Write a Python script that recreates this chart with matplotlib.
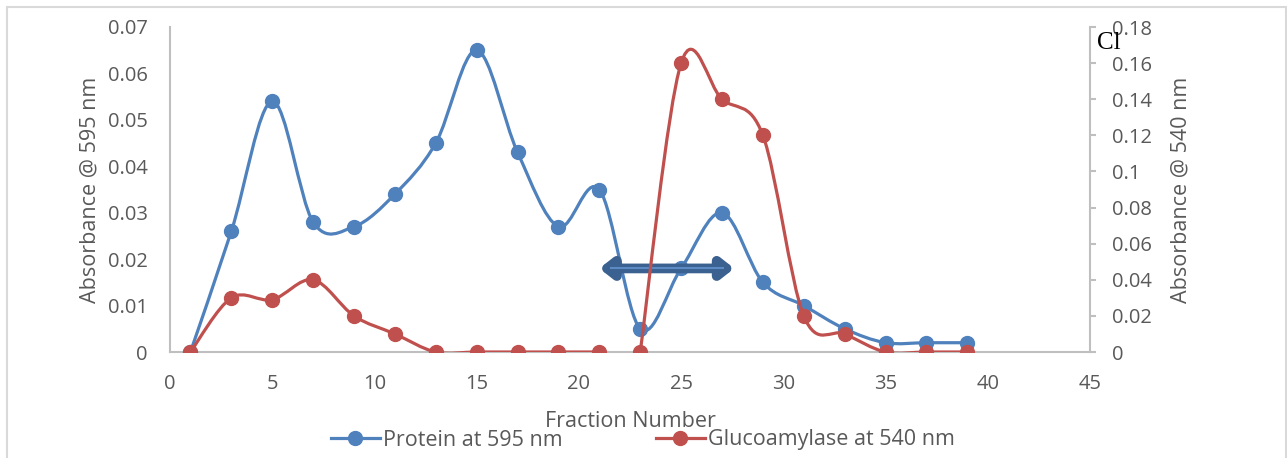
import matplotlib
matplotlib.use("Agg")
import matplotlib.pyplot as plt
from matplotlib.path import Path
from matplotlib.patches import PathPatch, Rectangle
from matplotlib.lines import Line2D

fractions = [1, 3, 5, 7, 9, 11, 13, 15, 17, 19, 21, 23, 25, 27, 29, 31, 33, 35, 37, 39]
protein = [0, 0.026, 0.054, 0.028, 0.027, 0.034, 0.045, 0.065, 0.043, 0.027, 0.035,
           0.005, 0.018, 0.030, 0.015, 0.010, 0.005, 0.002, 0.002, 0.002]
gluco_seg1_x = [1, 3, 5, 7, 9, 11, 13, 15, 17, 19, 21]
gluco_seg1_y = [0, 0.030, 0.029, 0.040, 0.020, 0.010, 0, 0, 0, 0, 0]
gluco_seg2_x = [23, 25, 27, 29, 31, 33, 35, 37, 39]
gluco_seg2_y = [0, 0.16, 0.14, 0.12, 0.02, 0.01, 0, 0, 0]

xticks = [0, 5, 10, 15, 20, 25, 30, 35, 40, 45]
left_ticks = [0, 0.01, 0.02, 0.03, 0.04, 0.05, 0.06, 0.07]
right_ticks = [0, 0.02, 0.04, 0.06, 0.08, 0.1, 0.12, 0.14, 0.16, 0.18]

BLUE = "#4f81bd"
RED = "#c0504d"
GRAY = "#bfbfbf"
TXT = "#595959"
FONT = "Open Sans"
TICK_FS = 14.5
LAB_FS = 15.5


def smooth_path(xs, ys):
    n = len(xs)
    verts = [(xs[0], ys[0])]
    codes = [Path.MOVETO]
    for i in range(n - 1):
        x0, y0 = (xs[i - 1], ys[i - 1]) if i > 0 else (xs[i], ys[i])
        x1, y1 = xs[i], ys[i]
        x2, y2 = xs[i + 1], ys[i + 1]
        x3, y3 = (xs[i + 2], ys[i + 2]) if i + 2 < n else (xs[i + 1], ys[i + 1])
        c1 = (x1 + (x2 - x0) / 6.0, y1 + (y2 - y0) / 6.0)
        c2 = (x2 - (x3 - x1) / 6.0, y2 - (y3 - y1) / 6.0)
        verts += [c1, c2, (x2, y2)]
        codes += [Path.CURVE4] * 3
    return Path(verts, codes)


fig = plt.figure(figsize=(12.87, 4.58), dpi=100)
ax = fig.add_axes([170 / 1287, 1 - 352 / 458, 920 / 1287, 325 / 458])
ax2 = ax.twinx()

ax.add_patch(PathPatch(smooth_path(fractions, protein), fill=False, edgecolor=BLUE, lw=2.3,
                       capstyle="round", joinstyle="round", zorder=3))
ax.plot(fractions, protein, "o", color=BLUE, ms=10, zorder=4)

for sx, sy in [(gluco_seg1_x, gluco_seg1_y), (gluco_seg2_x, gluco_seg2_y)]:
    ax2.add_patch(PathPatch(smooth_path(sx, sy), fill=False, edgecolor=RED, lw=2.3,
                            capstyle="round", joinstyle="round", zorder=3))
    ax2.plot(sx, sy, "o", color=RED, ms=10, zorder=4)

ax.set_xlim(0, 45)
ax.set_ylim(0, 0.07)
ax2.set_ylim(0, 0.18)
ax.set_xticks(xticks)
ax.set_yticks(left_ticks)
ax.set_yticklabels(["0" if v == 0 else f"{v:.2f}" for v in left_ticks])
ax2.set_yticks(right_ticks)
ax2.set_yticklabels(["0" if v == 0 else (f"{v:.1f}" if abs(v * 10 - round(v * 10)) < 1e-9 else f"{v:.2f}") for v in right_ticks])

for a in (ax, ax2):
    for s in a.spines.values():
        s.set_visible(False)
ax.spines["left"].set_visible(True)
ax.spines["bottom"].set_visible(True)
ax2.spines["right"].set_visible(True)
for s in (ax.spines["left"], ax.spines["bottom"], ax2.spines["right"]):
    s.set_color(GRAY)
    s.set_linewidth(1.5)

ax.tick_params(axis="y", length=0, labelsize=TICK_FS, labelcolor=TXT, pad=16)
ax.tick_params(axis="x", length=0, labelsize=TICK_FS, labelcolor=TXT, pad=16)
ax2.tick_params(axis="y", length=4, width=1.5, color=GRAY, labelsize=TICK_FS, labelcolor=TXT, pad=12)
for lab in ax.get_xticklabels() + ax.get_yticklabels() + ax2.get_yticklabels():
    lab.set_fontfamily(FONT)

ax.set_ylabel("Absorbance @ 595 nm", fontsize=LAB_FS, color=TXT, family=FONT, labelpad=5)
ax2.set_ylabel("Absorbance @ 540 nm", fontsize=LAB_FS, color=TXT, family=FONT, labelpad=13)
ax.set_xlabel("Fraction Number", fontsize=LAB_FS, color=TXT, family=FONT, labelpad=12)

# double arrow annotation
ax.annotate("", xy=(27.6, 0.018), xytext=(21.0, 0.018),
            arrowprops=dict(arrowstyle="<|-|>,head_length=0.7,head_width=0.55", lw=7,
                            color="#3b6190", shrinkA=0, shrinkB=0), zorder=6)
ax.plot([21.5, 27.1], [0.018, 0.018], color="#5b8ac4", lw=1.5, zorder=7, solid_capstyle="butt")

fig.text(1097 / 1287, 1 - 43 / 458, "Cl", family="Liberation Serif", fontsize=18,
         color="black", va="center", ha="left")

handles = [Line2D([], [], color=BLUE, lw=2.3, marker="o", ms=10),
           Line2D([], [], color=RED, lw=2.3, marker="o", ms=10)]
leg = fig.legend(handles, ["Protein at 595 nm", "Glucoamylase at 540 nm"], loc="center",
                 bbox_to_anchor=(643 / 1287, 1 - 440 / 458), ncol=2, frameon=False,
                 prop={"family": FONT, "size": LAB_FS}, columnspacing=4.3, handlelength=2.3,
                 handletextpad=0.15, borderpad=0)
for t in leg.get_texts():
    t.set_color(TXT)

fig.patches.append(Rectangle((7 / 1287, -0.01), 1279 / 1287, 1 - 7 / 458 + 0.01,
                             transform=fig.transFigure, fill=False, edgecolor="#d9d9d9",
                             lw=1.5, zorder=0))

fig.savefig("out.png", dpi=100)
